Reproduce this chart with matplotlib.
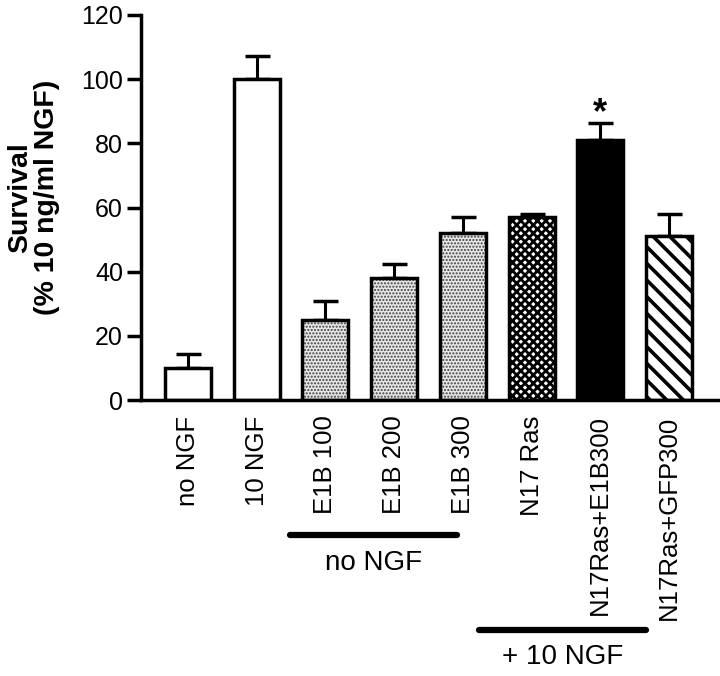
import matplotlib
matplotlib.use("Agg")
import matplotlib.pyplot as plt
import numpy as np

plt.rcParams['font.family'] = ['Liberation Sans', 'DejaVu Sans']

categories = ["no NGF", "10 NGF", "E1B 100", "E1B 200", "E1B 300",
              "N17 Ras", "N17Ras+E1B300", "N17Ras+GFP300"]
survival = [10, 100, 25, 38, 52, 57, 81, 51]
sem = [4.3, 7.3, 6.0, 4.3, 5.2, 1.0, 5.3, 7.0]
significant = [False, False, False, False, False, False, True, False]
group_names = ["no NGF", "+ 10 NGF"]
group_start = [1.49, 4.24]
group_end = [3.92, 6.66]
yticks = [0, 20, 40, 60, 80, 100, 120]

# styles
faces = ['white', 'white', '#e6e6e6', '#e6e6e6', '#e6e6e6', 'white', 'black', 'white']
hatches = [None, None, '.....', '.....', '.....', 'xxxx', None, '\\\\']
hatch_cols = ['black', 'black', '#404040', '#404040', '#404040', 'black', 'black', 'black']
hatch_lws = [1.0, 1.0, 1.0, 1.0, 1.0, 2.0, 1.0, 2.6]

fig = plt.figure(figsize=(7.2, 6.76), dpi=100)
ax = fig.add_axes([0.196, 0.408, 0.801, 0.570])

x = np.arange(len(categories))
w = 0.67
for i in range(len(categories)):
    with plt.rc_context({'hatch.linewidth': hatch_lws[i]}):
        bc = ax.bar(x[i], survival[i], w, color=faces[i], hatch=hatches[i],
                    edgecolor=hatch_cols[i], linewidth=0, zorder=2)
        for p in bc:
            if hasattr(p, 'set_hatch_linewidth'):
                p.set_hatch_linewidth(hatch_lws[i])
ax.bar(x, survival, w, facecolor='none', edgecolor='black', linewidth=2.5, zorder=3)
ax.errorbar(x, survival, yerr=[np.zeros(len(sem)), sem], fmt='none',
            ecolor='black', elinewidth=2.2, capsize=9, capthick=2.5, zorder=1)
for i in range(len(categories)):
    if significant[i]:
        ax.text(x[i], survival[i] + sem[i] - 2.5, '*', ha='center', va='bottom',
                fontsize=26, fontweight='bold')

ax.set_xlim(-0.68, 7.71)
ax.set_ylim(0, 120)
ax.set_yticks(yticks)
ax.set_yticklabels([str(t) for t in yticks], fontsize=18)
ax.set_xticks(x)
ax.set_xticklabels(categories, rotation=90, fontsize=18.5, va='top', ha='center')
ax.tick_params(axis='x', length=0, pad=11)
ax.tick_params(axis='y', length=10, width=2.5, direction='out', pad=3)
for s in ['top', 'right']:
    ax.spines[s].set_visible(False)
for s in ['left', 'bottom']:
    ax.spines[s].set_linewidth(2.5)

fig.text(0.047, 0.708, 'Survival\n(% 10 ng/ml NGF)', rotation=90, ha='center',
         va='center', fontsize=20.5, fontweight='bold', linespacing=1.05)


def data_to_figx(v):
    disp = ax.transData.transform((v, 0))
    return fig.transFigure.inverted().transform(disp)[0]


group_y = [1 - 535 / 676, 1 - 630 / 676]
label_y = [1 - 563 / 676, 1 - 657 / 676]
for name, a, b, gy, ly in zip(group_names, group_start, group_end, group_y, label_y):
    x0 = data_to_figx(a)
    x1 = data_to_figx(b)
    fig.add_artist(plt.Line2D([x0, x1], [gy, gy], color='black', lw=4.5,
                              solid_capstyle='round', transform=fig.transFigure))
    fig.text((x0 + x1) / 2, ly, name, ha='center', va='center', fontsize=20)

fig.savefig('out.png', dpi=100)
